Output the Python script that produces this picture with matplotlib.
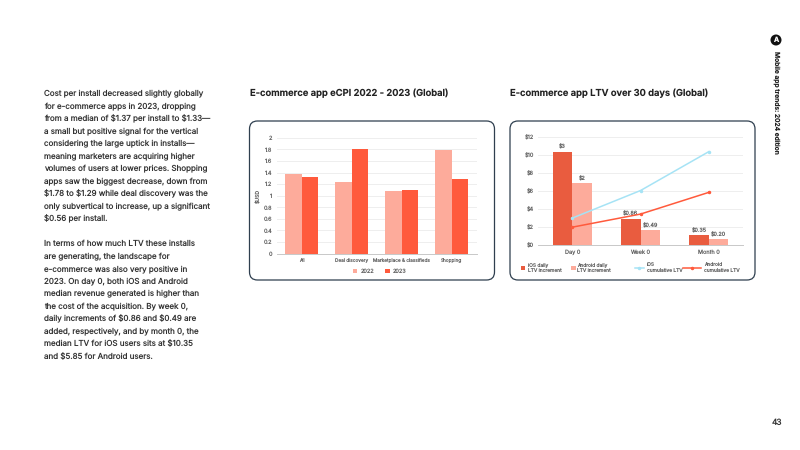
import matplotlib
matplotlib.use("Agg")
import matplotlib.pyplot as plt
from matplotlib.patches import FancyBboxPatch, Circle

W, H = 800, 450

# eCPI by subvertical
cpi_categories = ["All", "Deal discovery", "Marketplace & classifieds", "Shopping"]
cpi_2022 = [1.37, 1.24, 1.08, 1.78]
cpi_2023 = [1.33, 1.80, 1.10, 1.29]
cpi_ticks = [0, 0.2, 0.4, 0.6, 0.8, 1, 1.2, 1.4, 1.6, 1.8, 2]

# LTV by time since install
ltv_categories = ["Day 0", "Week 0", "Month 0"]
ios_bars = [10.35, 2.95, 1.15]
android_bars = [6.9, 1.65, 0.65]
ios_bar_labels = ["\\$3", "\\$0.86", "\\$0.35"]
android_bar_labels = ["\\$2", "\\$0.49", "\\$0.20"]
ios_cumulative = [3.0, 6.05, 10.35]
android_cumulative = [2.0, 3.45, 5.85]
ltv_ticks = [0, 2, 4, 6, 8, 10, 12]

body_lines = [
    "Cost per install decreased slightly globally",
    "for e-commerce apps in 2023, dropping",
    "from a median of $1.37 per install to $1.33—",
    "a small but positive signal for the vertical",
    "considering the large uptick in installs—",
    "meaning marketers are acquiring higher",
    "volumes of users at lower prices. Shopping",
    "apps saw the biggest decrease, down from",
    "$1.78 to $1.29 while deal discovery was the",
    "only subvertical to increase, up a significant",
    "$0.56 per install.",
    "",
    "In terms of how much LTV these installs",
    "are generating, the landscape for",
    "e-commerce was also very positive in",
    "2023. On day 0, both iOS and Android",
    "median revenue generated is higher than",
    "the cost of the acquisition. By week 0,",
    "daily increments of $0.86 and $0.49 are",
    "added, respectively, and by month 0, the",
    "median LTV for iOS users sits at $10.35",
    "and $5.85 for Android users.",
]

plt.rcParams["font.family"] = ["Inter", "DejaVu Sans"]
plt.rcParams["text.hinting"] = "no_hinting"

INK = "#333333"
AXIS_TEXT = "#666666"
GRID = "#eeeeee"
LIGHT_RED = "#fdab9b"
RED = "#ff5a3c"
BRICK = "#e95c3f"
SKY = "#a6e3f5"

fig = plt.figure(figsize=(W / 100, H / 100), dpi=100, facecolor="white")

# Full-page overlay in pixel coordinates for text and card outlines
page = fig.add_axes([0, 0, 1, 1], zorder=0)
page.set_xlim(0, W)
page.set_ylim(H, 0)
page.axis("off")


def add_axes_px(left, top, right, bottom):
    ax = fig.add_axes([left / W, 1 - bottom / H, (right - left) / W, (bottom - top) / H], zorder=2)
    ax.patch.set_alpha(0)
    return ax


def style_axes(ax, ticks, labels, categories):
    ax.set_yticks(ticks, labels)
    ax.set_ylim(ticks[0], ticks[-1])
    ax.set_xticks(range(len(categories)), categories)
    ax.set_xlim(-0.5, len(categories) - 0.5)
    ax.grid(axis="y", color=GRID, linewidth=0.7)
    ax.set_axisbelow(True)
    for side in ("top", "right", "left"):
        ax.spines[side].set_visible(False)
    ax.spines["bottom"].set_color("#c8c8c8")
    ax.spines["bottom"].set_linewidth(0.7)
    ax.tick_params(length=0, labelsize=4.0, labelcolor=AXIS_TEXT, pad=3)


def legend_at(handle, x_px, y_px, handlelength, textpad):
    # One legend per entry so each can sit at its own spot along the row
    fig.legend(handles=[handle], loc="upper left", frameon=False, fontsize=3.5,
               bbox_to_anchor=(x_px / W, 1 - y_px / H), bbox_transform=fig.transFigure,
               handlelength=handlelength, handleheight=0.8, handletextpad=textpad,
               labelcolor=AXIS_TEXT, borderpad=0, borderaxespad=0, labelspacing=0)


# Body copy
for i, line in enumerate(body_lines):
    page.text(44, 94 + i * 12.5, line, fontsize=5.75, color=INK, va="center", ha="left",
              parse_math=False)

# Chart headings
page.text(249.5, 93, "E-commerce app eCPI 2022 - 2023 (Global)", fontsize=6.75,
          fontweight="semibold", color="#222222", va="center", parse_math=False)
page.text(510.5, 93, "E-commerce app LTV over 30 days (Global)", fontsize=6.75,
          fontweight="semibold", color="#222222", va="center", parse_math=False)

# Rounded cards behind the charts
for x0, x1 in ((249.5, 494.5), (510, 755)):
    page.add_patch(FancyBboxPatch((x0 + 8, 121 + 8), x1 - x0 - 16, 159 - 16,
                                  boxstyle="round,pad=8,rounding_size=8",
                                  facecolor="white", edgecolor="#2f3f4f", linewidth=0.9))

# Side running head and page number
page.add_patch(Circle((776, 40), 5.5, facecolor="#111111", edgecolor="none"))
page.text(776, 40, "A", fontsize=5, fontweight="bold", color="white", ha="center", va="center")
page.text(776, 102, "Mobile app trends: 2024 edition", fontsize=4.8, fontweight="semibold",
          color="#222222", rotation=-90, ha="center", va="center")
page.text(777, 423, "43", fontsize=6.0, color=INK, ha="center", va="center")

# eCPI grouped bars
ax1 = add_axes_px(276.7, 137.7, 476.7, 253.7)
bar_w1 = 0.335
xs1 = list(range(len(cpi_categories)))
ax1.bar([x - bar_w1 / 2 for x in xs1], cpi_2022, bar_w1, color=LIGHT_RED, label="2022")
ax1.bar([x + bar_w1 / 2 for x in xs1], cpi_2023, bar_w1, color=RED, label="2023")
style_axes(ax1, cpi_ticks, [f"{t:g}" for t in cpi_ticks], cpi_categories)
ax1.tick_params(axis="x", labelsize=3.4)
ax1.set_ylabel("\\$USD", fontsize=3.7, color=AXIS_TEXT, labelpad=1.5)
ax1.legend(loc="upper left", bbox_to_anchor=(352.5 / W, 1 - 268.5 / H), bbox_transform=fig.transFigure,
           ncol=2, frameon=False, fontsize=4.0,
           handlelength=0.8, handleheight=0.8, handletextpad=0.6, columnspacing=2.0,
           labelcolor=AXIS_TEXT, borderpad=0, borderaxespad=0)

# LTV grouped bars with cumulative lines
ax2 = add_axes_px(538, 136.7, 743, 245.3)
bar_w2 = 0.283
xs2 = list(range(len(ltv_categories)))
ios = ax2.bar([x - bar_w2 / 2 for x in xs2], ios_bars, bar_w2, color=BRICK,
              label="iOS daily\nLTV increment")
android = ax2.bar([x + bar_w2 / 2 for x in xs2], android_bars, bar_w2, color=LIGHT_RED,
                  label="Android daily\nLTV increment")
ios_line, = ax2.plot(xs2, ios_cumulative, color=SKY, linewidth=1.1, marker="o", markersize=1.5,
                     label="iOS\ncumulative LTV", zorder=4)
android_line, = ax2.plot(xs2, android_cumulative, color=RED, linewidth=1.1, marker="o", markersize=1.5,
                         label="Android\ncumulative LTV", zorder=4)
style_axes(ax2, ltv_ticks, [f"\\${t}" for t in ltv_ticks], ltv_categories)
ax2.bar_label(ios, labels=ios_bar_labels, fontsize=3.9, color=AXIS_TEXT, padding=1.2)
ax2.bar_label(android, labels=android_bar_labels, fontsize=3.9, color=AXIS_TEXT, padding=1.2)

# Legend row under the LTV plot
legend_at(ios, 521, 262.5, 0.9, 0.6)
legend_at(android, 571.3, 262.5, 0.9, 0.35)
legend_at(ios_line, 635, 262.5, 1.8, 0.65)
legend_at(android_line, 683, 262.5, 3.6, 0.65)

fig.savefig("out.png", dpi=100)
